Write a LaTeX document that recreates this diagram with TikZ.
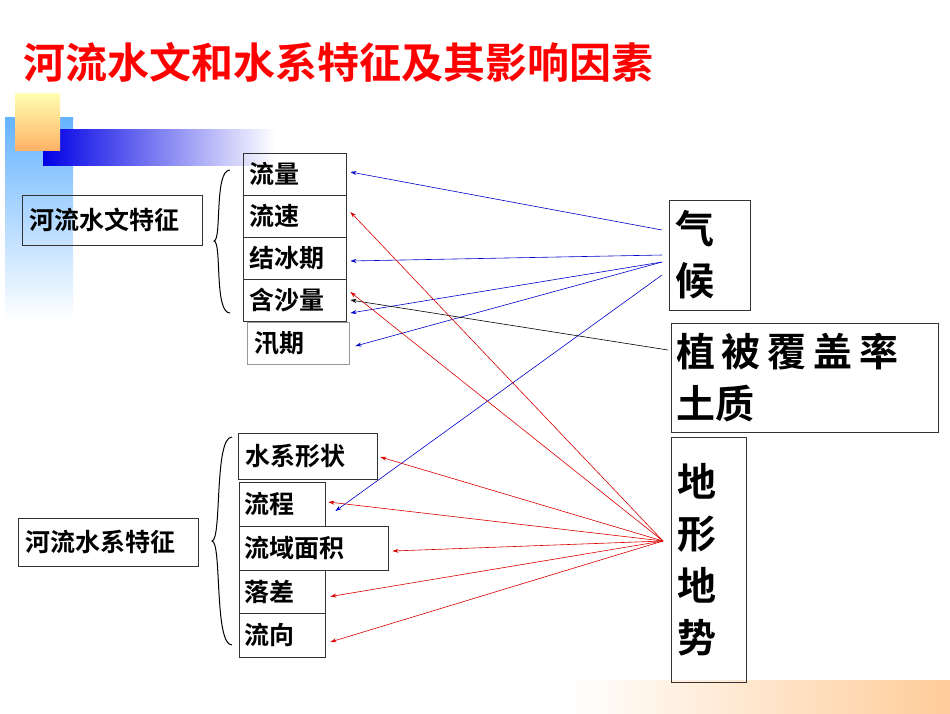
\documentclass[tikz,border=0pt]{standalone}
\usepackage{fontspec}
\setmainfont{Liberation Sans}
\newfontfamily\cjk{Noto Sans CJK SC Bold}
\usetikzlibrary{arrows.meta,decorations.pathreplacing}
\begin{document}
\begin{tikzpicture}[x=1pt,y=-1pt,
 bx/.style={draw=black!80,line width=0.8pt,inner sep=0pt,font=\cjk\fontsize{25}{28}\selectfont,text=black},
 big/.style={draw=black!80,line width=0.8pt,inner sep=0pt,font=\cjk\fontsize{39}{52}\selectfont},
 barrow/.style={draw=blue!80!black,line width=0.6pt,-{Stealth[length=6pt,width=4pt]}},
 rarrow/.style={draw=red!85!black,line width=0.6pt,-{Stealth[length=6pt,width=4pt]}},
 karrow/.style={draw=black,line width=0.6pt,-{Stealth[length=6pt,width=4pt]}}]
\useasboundingbox (0,0) rectangle (950,713);
% decoration
\shade[top color=cyan!50!blue!60,bottom color=white] (5,117) rectangle (73,320);
\shade[left color=blue!90!black,right color=white] (43,129) rectangle (275,165);
\shade[top color=yellow!30,bottom color=orange!60] (15,93) rectangle (60,150);
\shade[left color=white,right color=orange!40] (570,680) rectangle (950,713);
\node[anchor=west,text=red,font=\cjk\fontsize{42}{46}\selectfont] (title) at (20,62) {河流水文和水系特征及其影响因素};
% upper boxes
\node[bx,minimum width=180,minimum height=50,text width=166] (swtz) at (112,220) {河流水文特征};
\node[bx,minimum width=103,minimum height=42,text width=91] (ll) at (294.5,174) {流量};
\node[bx,minimum width=103,minimum height=42,text width=91] (ls) at (294.5,216) {流速};
\node[bx,minimum width=103,minimum height=42,text width=91] (jbq) at (294.5,258) {结冰期};
\node[bx,minimum width=103,minimum height=42,text width=91] (hsl) at (294.5,300) {含沙量};
\node[bx,draw=black!40,minimum width=102,minimum height=42,text width=88] (xq) at (298,343) {汛期};
\draw[line width=1pt] (230,170) .. controls (214,170) and (222,240) .. (214,241) .. controls (222,242) and (214,313) .. (230,313);
% lower boxes
\node[bx,minimum width=180,minimum height=48,text width=166] (sxtz) at (108,542) {河流水系特征};
\node[bx,minimum width=139,minimum height=46,text width=125] (sxxz) at (307.5,456) {水系形状};
\node[bx,minimum width=86,minimum height=44,text width=76] (lc) at (282,504) {流程};
\node[bx,minimum width=149,minimum height=44,text width=139] (lymj) at (313.5,548) {流域面积};
\node[bx,minimum width=86,minimum height=43,text width=76] (lcha) at (282,591.5) {落差};
\node[bx,minimum width=86,minimum height=44,text width=76] (lx) at (282,635) {流向};
\draw[line width=1pt] (232,437) .. controls (214,437) and (222,540) .. (212,541) .. controls (222,542) and (214,645) .. (232,645);
% right boxes
\node[big,minimum width=81,minimum height=110,text width=68,align=left] (qh) at (709.5,255) {气\\候};
\node[big,minimum width=267,minimum height=109,text width=257,align=left] (zb) at (804.5,378) {植\hspace{7pt}被\hspace{7pt}覆\hspace{7pt}盖\hspace{7pt}率\\土质};
\node[big,minimum width=75,minimum height=245,text width=62,align=left] (dx) at (708.5,560) {地\\形\\地\\势};
\coordinate (q1) at (662,230);
\coordinate (q2) at (662,255);
\coordinate (q3) at (662,262);
\coordinate (q4) at (662,275);
\coordinate (z1) at (668,350);
\coordinate (d1) at (663,541);
\draw[barrow] (q1) -- ([xshift=4pt,yshift=2pt]ll.east);
\draw[barrow] (q2) -- ([xshift=4pt,yshift=-3pt]jbq.east);
\draw[barrow] (q3) -- ([xshift=4pt,yshift=-13pt]hsl.east);
\draw[barrow] (q3) -- ([xshift=6pt,yshift=-3pt]xq.east);
\draw[barrow] (q4) -- ([xshift=10pt,yshift=-7pt]lc.east);
\draw[karrow] (z1) -- ([xshift=4pt]hsl.east);
\draw[rarrow] (d1) -- ([xshift=4pt,yshift=4pt]ls.east);
\draw[rarrow] (d1) -- ([xshift=4pt,yshift=8pt]hsl.east);
\draw[rarrow] (d1) -- ([xshift=3pt,yshift=-1pt]sxxz.east);
\draw[rarrow] (d1) -- ([xshift=3pt,yshift=2pt]lc.east);
\draw[rarrow] (d1) -- ([xshift=4pt,yshift=-3pt]lymj.east);
\draw[rarrow] (d1) -- ([xshift=5pt,yshift=-5pt]lcha.east);
\draw[rarrow] (d1) -- ([xshift=5pt,yshift=-7pt]lx.east);
\end{tikzpicture}
\end{document}
